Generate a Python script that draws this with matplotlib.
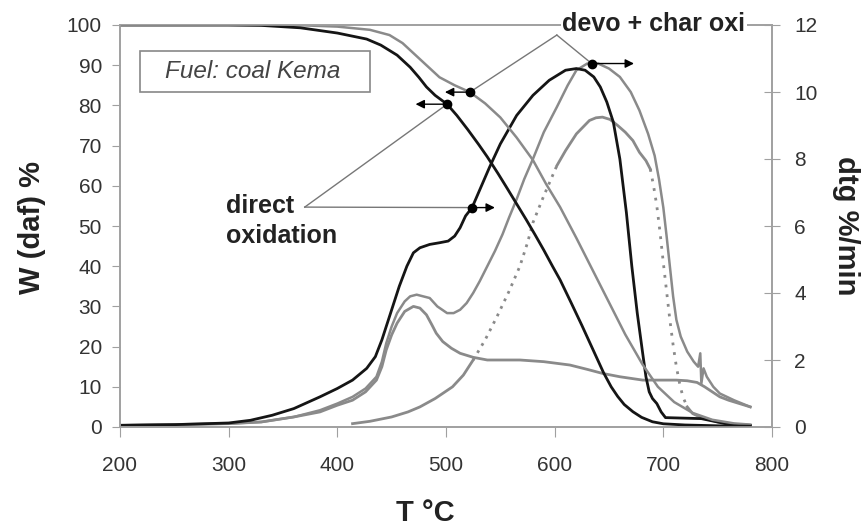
import numpy as np
import matplotlib
matplotlib.use("Agg")
import matplotlib.pyplot as plt
from matplotlib.patches import Rectangle

plt.rcParams['font.family'] = ['Liberation Sans', 'DejaVu Sans']

# TG curves, W (daf) %
t_tg_direct = [200, 300, 330, 366, 400, 427, 440, 455, 467, 475, 482, 490, 501, 510, 520,
               530, 538, 548, 556, 565, 574, 582, 590, 598, 605, 615, 625, 635, 645, 652,
               658, 664, 672, 680, 690, 700, 720, 750, 780]
w_tg_direct = [100, 100, 99.9, 99.3, 98, 96.5, 95, 92.5, 89.5, 87, 84.6, 82.5, 80.3, 77.5, 74,
               70.3, 67.2, 63, 59.5, 55.5, 51.5, 47.8, 44, 40, 36.6, 31, 25.3, 19.4, 13.5, 10,
               7.6, 5.6, 3.8, 2.4, 1.3, 0.8, 0.5, 0.3, 0.2]

t_tg_devo = [200, 330, 370, 400, 430, 448, 460, 470, 482, 494, 508, 522, 536, 550, 565,
             580, 592, 605, 620, 635, 650, 665, 681, 695, 710, 727, 745, 765, 780]
w_tg_devo = [100, 100, 99.9, 99.6, 98.8, 97.5, 95.5, 93, 90, 87, 85, 83.3, 80.5, 77, 72,
             66.4, 60.5, 54.7, 47, 39, 31, 23, 15.5, 10, 6.2, 3.5, 1.8, 0.9, 0.6]

# DTG curves, %/min
t_dtg_direct = [200, 250, 300, 320, 340, 360, 384, 400, 414, 427, 435, 441, 446, 451, 457,
                464, 470, 476, 485, 494, 502, 508, 513, 518, 524, 530, 540, 550, 565, 580,
                595, 610, 620, 628, 636, 642, 648, 654, 660, 666, 671, 676, 681, 684, 687,
                690, 694, 698, 702, 735, 760, 780]
d_dtg_direct = [0.05, 0.07, 0.12, 0.2, 0.35, 0.55, 0.9, 1.15, 1.4, 1.75, 2.1, 2.6, 3.1, 3.6, 4.2,
                4.8, 5.2, 5.35, 5.45, 5.5, 5.55, 5.7, 5.95, 6.3, 6.55, 7.0, 7.75, 8.45, 9.3, 9.9,
                10.35, 10.65, 10.7, 10.65, 10.45, 10.15, 9.7, 9.1, 8.0, 6.4, 4.8, 3.4, 2.2, 1.5, 1.05,
                0.85, 0.7, 0.45, 0.28, 0.25, 0.08, 0.05]

t_dtg_devo = [200, 250, 300, 330, 360, 384, 400, 414, 426, 436, 441, 445, 450, 455, 462,
              467, 473, 479, 485, 492, 501, 507, 513, 519, 525, 531, 538, 545, 552, 558,
              565, 572, 580, 590, 602, 612, 620, 630, 640, 650, 660, 670, 678, 686, 692,
              696, 700, 703, 706, 709, 712, 716, 722, 728, 732, 734, 735, 737, 740, 746,
              752, 765, 780]
d_dtg_devo = [0.05, 0.07, 0.1, 0.15, 0.3, 0.5, 0.7, 0.9, 1.15, 1.5, 1.95, 2.5, 3.0, 3.4, 3.75,
              3.9, 3.95, 3.9, 3.85, 3.6, 3.4, 3.4, 3.5, 3.7, 4.0, 4.35, 4.8, 5.25, 5.75, 6.25,
              6.8, 7.4, 8.0, 8.8, 9.55, 10.2, 10.65, 10.85, 10.85, 10.7, 10.45, 10.0, 9.45, 8.75, 8.1,
              7.4, 6.55, 5.7, 4.8, 3.9, 3.2, 2.7, 2.25, 1.95, 1.8, 2.2, 1.3, 1.75, 1.5, 1.2,
              1.0, 0.8, 0.6]

t_dtg_low = [200, 300, 330, 360, 384, 400, 414, 426, 436, 441, 445, 450, 455, 462, 470,
             476, 482, 487, 491, 497, 505, 513, 525, 538, 555, 568, 590, 614, 630, 644,
             660, 681, 700, 712, 722, 731, 738, 745, 752, 760, 770, 780]
d_dtg_low = [0.05, 0.1, 0.15, 0.3, 0.45, 0.65, 0.8, 1.05, 1.4, 1.8, 2.3, 2.75, 3.1, 3.45, 3.6,
             3.55, 3.35, 3.05, 2.8, 2.55, 2.35, 2.2, 2.08, 2.0, 2.0, 2.0, 1.95, 1.85, 1.72, 1.6,
             1.5, 1.4, 1.4, 1.4, 1.38, 1.33, 1.2, 1.05, 0.9, 0.8, 0.7, 0.6]

t_dtg_char = [414, 430, 450, 465, 476, 490, 506, 516, 525, 536, 547, 558, 568, 575, 580,
              585, 590, 596, 602, 610, 620, 626, 632, 638, 644, 651, 658, 665, 672, 678,
              684, 688, 691, 694, 697, 700, 703, 706, 709, 712, 715, 718, 722, 727, 735,
              750, 765, 780]
d_dtg_char = [0.1, 0.17, 0.3, 0.45, 0.6, 0.85, 1.2, 1.55, 2.0, 2.6, 3.3, 4.05, 4.8, 5.5, 6.1,
              6.5, 6.9, 7.35, 7.8, 8.25, 8.75, 8.95, 9.15, 9.23, 9.25, 9.18, 9.0, 8.8, 8.55, 8.2,
              7.95, 7.7, 7.2, 6.6, 5.8, 4.9, 4.05, 3.2, 2.45, 1.8, 1.3, 0.9, 0.6, 0.4, 0.28,
              0.15, 0.08, 0.05]

BLACK = '#151515'
GRAY = '#8a8a8a'
AXC = '#a0a0a0'
K = 100 / 12.0  # dtg -> W units on left axis

fig = plt.figure(figsize=(8.64, 5.29), dpi=100)
ax = fig.add_axes([120/864, 1-427/529, 652/864, 402/529])
ax2 = ax.twinx()
ax.set_zorder(ax2.get_zorder() + 1)
ax.patch.set_visible(False)

ax.set_xlim(200, 800)
ax.set_ylim(0, 100)
ax2.set_ylim(0, 12)
ax.set_xticks(range(200, 801, 100))
ax.set_yticks(range(0, 101, 10))
ax2.set_yticks(range(0, 13, 2))

for a in (ax, ax2):
    for s in a.spines.values():
        s.set_color(AXC)
        s.set_linewidth(1.2)
ax.tick_params(axis='y', direction='out', length=6, color=AXC, labelsize=15,
               labelcolor='#333333', pad=7)
ax.tick_params(axis='x', direction='out', length=7, color=AXC, labelsize=15,
               labelcolor='#333333', pad=14)
ax2.tick_params(axis='y', direction='inout', length=12, color=AXC, labelsize=15,
                labelcolor='#333333', pad=10)

# curves
ax2.plot(t_dtg_low, d_dtg_low, color=GRAY, lw=2)
ax2.plot(t_dtg_devo, d_dtg_devo, color=GRAY, lw=1.8)
tc = np.array(t_dtg_char)
dc = np.array(d_dtg_char)
for lo, hi, ls in [(400, 525, '-'), (525, 602, (0, (1, 2))), (602, 688, '-'),
                   (688, 722, (0, (1, 2.5))), (722, 800, '-')]:
    m = (tc >= lo) & (tc <= hi)
    ax2.plot(tc[m], dc[m], color=GRAY, lw=2, linestyle=ls)
ax2.plot(t_dtg_direct, d_dtg_direct, color=BLACK, lw=2)
ax.plot(t_tg_devo, w_tg_devo, color=GRAY, lw=1.8)
ax.plot(t_tg_direct, w_tg_direct, color=BLACK, lw=2)

# markers with arrows showing which axis each curve belongs to
def mark(t, w, t_to):
    ax.plot(t, w, 'o', color='black', ms=6, zorder=5)
    ax.annotate('', xy=(t_to, w), xytext=(t, w),
                arrowprops=dict(arrowstyle='-|>', color='black', lw=1, mutation_scale=13,
                                shrinkA=0, shrinkB=0), zorder=5)
    return t, w

m_tg_dir = mark(501, np.interp(501, t_tg_direct, w_tg_direct), 472)
m_tg_dev = mark(522, np.interp(522, t_tg_devo, w_tg_devo), 499)
m_dtg_dir = mark(524, np.interp(524, t_dtg_direct, d_dtg_direct) * K, 545)
m_dtg_dev = mark(634, np.interp(634, t_dtg_devo, d_dtg_devo) * K, 673)

apex_dir = (370, 54.7)
apex_dev = (602, 97.5)
for apex, targets in [(apex_dir, [m_tg_dir, m_dtg_dir]), (apex_dev, [m_tg_dev, m_dtg_dev])]:
    for tx, ty in targets:
        ax.plot([apex[0], tx], [apex[1], ty], color='#777777', lw=1, zorder=4)

ax.text(0.163, 0.512, 'direct\noxidation', transform=ax.transAxes, ha='left', va='center',
        fontsize=18, fontweight='bold', color='#222222', linespacing=1.3)
ax.text(0.819, 1.003, 'devo + char oxi', transform=ax.transAxes, ha='center', va='center',
        fontsize=18, fontweight='bold', color='#222222', zorder=6,
        bbox=dict(facecolor='white', edgecolor='none', pad=1))

ax.add_patch(Rectangle((0.031, 0.833), 0.352, 0.102, transform=ax.transAxes,
                       facecolor='white', edgecolor='#888888', lw=1.2, zorder=6))
ax.text(0.204, 0.885, 'Fuel: coal Kema', transform=ax.transAxes, ha='center', va='center',
        fontsize=17.5, style='italic', color='#444444', zorder=7)

fig.text(32/864, 1-228/529, 'W (daf) %', rotation=90, ha='center', va='center',
         fontsize=21, fontweight='bold', color='#222222')
fig.text(846/864, 1-226/529, 'dtg %/min', rotation=270, ha='center', va='center',
         fontsize=21, fontweight='bold', color='#222222')
fig.text(425/864, 1-513/529, 'T °C', ha='center', va='center',
         fontsize=21, fontweight='bold', color='#222222')

fig.savefig('out.png', dpi=100)
